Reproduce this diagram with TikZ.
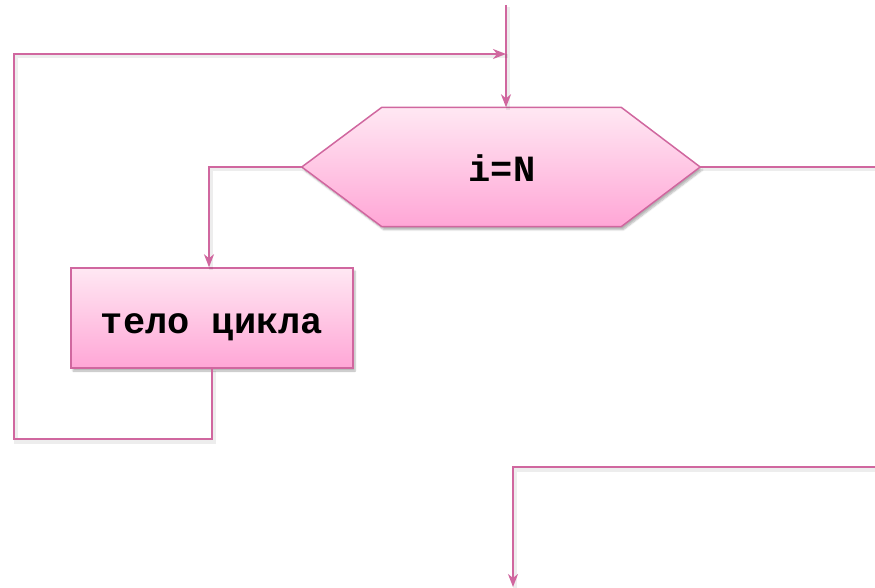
\documentclass[tikz,border=0pt]{standalone}
\usepackage{fontspec}
\setmonofont{Liberation Mono}
\usetikzlibrary{arrows.meta,shadows.blur}
\definecolor{ln}{HTML}{D0679F}
\definecolor{ftop}{HTML}{FFE8F3}
\definecolor{fbot}{HTML}{FFA6D6}
\tikzset{
 lshadow/.style={preaction={draw=black, draw opacity=0.07, line width=4pt, arrows=-,
   transform canvas={shift={(1.5pt,-2.5pt)}}}},
 conn/.style={draw=ln, line width=1.8pt},
 arr/.style={conn,-{Stealth[length=13pt,width=10pt,inset=4pt]}},
 blk/.style={draw=ln,line width=1.5pt, top color=ftop, bottom color=fbot,
   blur shadow={shadow xshift=2pt,shadow yshift=-3pt,shadow blur steps=6,shadow opacity=30}},
 lbl/.style={font=\ttfamily\bfseries\fontsize{37}{40}\selectfont}
}
\begin{document}
\begin{tikzpicture}[x=1pt,y=-1pt]
\useasboundingbox (0,0) rectangle (875,588);
% decision
\node[lbl, minimum width=398pt, minimum height=119pt, inner sep=0pt] (dec) at (501,167) {};
\path[blk] (dec.west) -- ([xshift=80pt]dec.north west) -- ([xshift=-79pt]dec.north east)
  -- (dec.east) -- ([xshift=-79pt]dec.south east) -- ([xshift=80pt]dec.south west) -- cycle;
\node[lbl] (declbl) at (502,168) {i=N};
% body
\node[blk, lbl, minimum width=282pt, minimum height=100pt, inner sep=0pt,
  text height=30pt, text depth=0pt] (body) at (212,318) {тело цикла};
% coordinates
\coordinate (top) at (506,5);
\coordinate (lp1) at (14,439);
\coordinate (lp2) at (14,54);
\coordinate (rgt) at (875,167);
\coordinate (b1) at (875,467);
\coordinate (b2) at (513,587);
\coordinate (lb) at (209,200);
% connectors
\draw[lshadow, arr] (top) -- (top |- dec.north);
\draw[lshadow, arr] (body.south) |- (lp1) -- (lp2) -- (lp2 -| top);
\draw[lshadow, arr] (dec.west) -| (lb |- body.north);
\draw[lshadow, conn] (dec.east) -- (rgt);
\draw[lshadow, arr] (b1) -| (b2);
\end{tikzpicture}
\end{document}
